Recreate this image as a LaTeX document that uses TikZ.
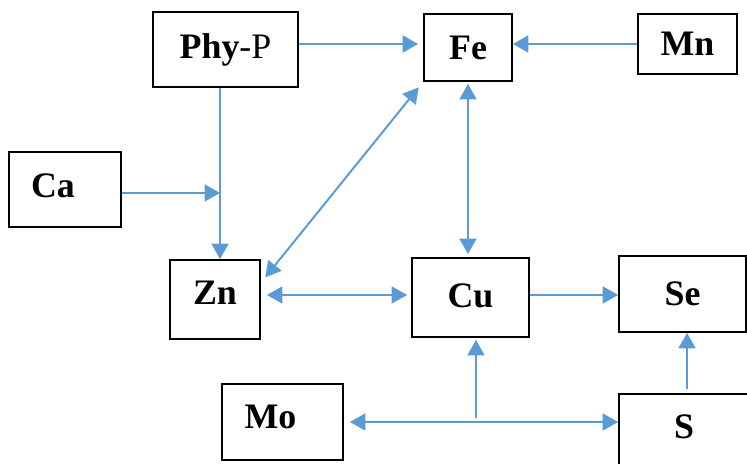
\documentclass[tikz,border=0pt]{standalone}
\usepackage{fontspec}
\setmainfont{Liberation Serif}
\usetikzlibrary{arrows.meta,positioning,calc}
\definecolor{linkblue}{RGB}{91,155,213}

\begin{document}
\begin{tikzpicture}[
  x=0.025cm, y=-0.025cm,
  font=\fontsize{25.5}{30}\selectfont\bfseries,
  % Styles
  element/.style={draw,rectangle,line width=1.2pt,inner sep=0pt,align=center},
  link/.style={draw=linkblue,line width=1.4pt,-{Triangle[length=11pt,width=12pt]}},
  twoway/.style={link,{Triangle[length=11pt,width=12pt]}-{Triangle[length=11pt,width=12pt]}},
  ]
\useasboundingbox (0,0) rectangle (747,464);

%--- Elements -------------------------------------------------------
\node[element, minimum width=3.625cm, minimum height=1.875cm] (phy) at (225.5,49.5) {Phy\textmd{-P}};
\node[element, minimum width=2.2cm, minimum height=1.675cm] (fe) at (468,47.5) {Fe};
\node[element, minimum width=2.475cm, minimum height=1.5cm] (mn) at (687.5,44) {Mn};
\node[element, minimum width=2.8cm, minimum height=1.875cm, text depth=6pt] (ca) at (65,189.5) {\hspace*{-0.6cm}Ca};
\node[element, minimum width=2.25cm, minimum height=1.975cm, text depth=10pt] (zn) at (215,299.5) {Zn};
\node[element, minimum width=2.925cm, minimum height=1.975cm, text depth=3pt] (cu) at (470.5,297.5) {Cu};
\node[element, minimum width=3.175cm, minimum height=1.9cm] (se) at (682.5,294) {Se};
\node[element, minimum width=3.025cm, minimum height=1.9cm, text depth=7pt] (mo) at (282.5,422) {\hspace*{-0.6cm}Mo};
\node[element, minimum width=3.25cm, minimum height=2.25cm, text depth=17pt] (s) at (684,439) {S};

% Junction points
\coordinate (join) at (220,193);
\coordinate (split) at (476,418);
\coordinate (midrow) at (0,295);

%--- Top row --------------------------------------------------------
\draw[link, shorten >=0.125cm] (phy.east |- mn.west) -- (fe.west |- mn.west);
\draw[link] (mn.west) -- (fe.east |- mn.west);

%--- Phy-P and Ca into Zn -------------------------------------------
\draw[link] (phy.south -| join) -- (zn.north -| join);
\draw[link] (ca.east |- join) -- (join);

%--- Zn, Fe and Cu --------------------------------------------------
\draw[twoway, shorten <=0.175cm, shorten >=0.175cm] (zn.20) -- (fe.south west);
\draw[twoway, shorten <=0.05cm, shorten >=0.075cm] (fe.south) -- (fe.south |- cu.north);
\draw[twoway, shorten <=0.15cm, shorten >=0.1cm] (zn.east |- midrow) -- (cu.west |- midrow);
\draw[link] (cu.east |- midrow) -- (se.west |- midrow);

%--- Bottom row -----------------------------------------------------
\draw[twoway, shorten <=0.15cm] (mo.east) -- (s.west |- mo.east);
\draw[link, shorten >=0.05cm] (split) -- (split |- cu.south);
\draw[link, shorten <=0.1cm] ([xshift=0.075cm]s.north) -- ([xshift=0.075cm]s.north |- se.south);

\end{tikzpicture}
\end{document}
